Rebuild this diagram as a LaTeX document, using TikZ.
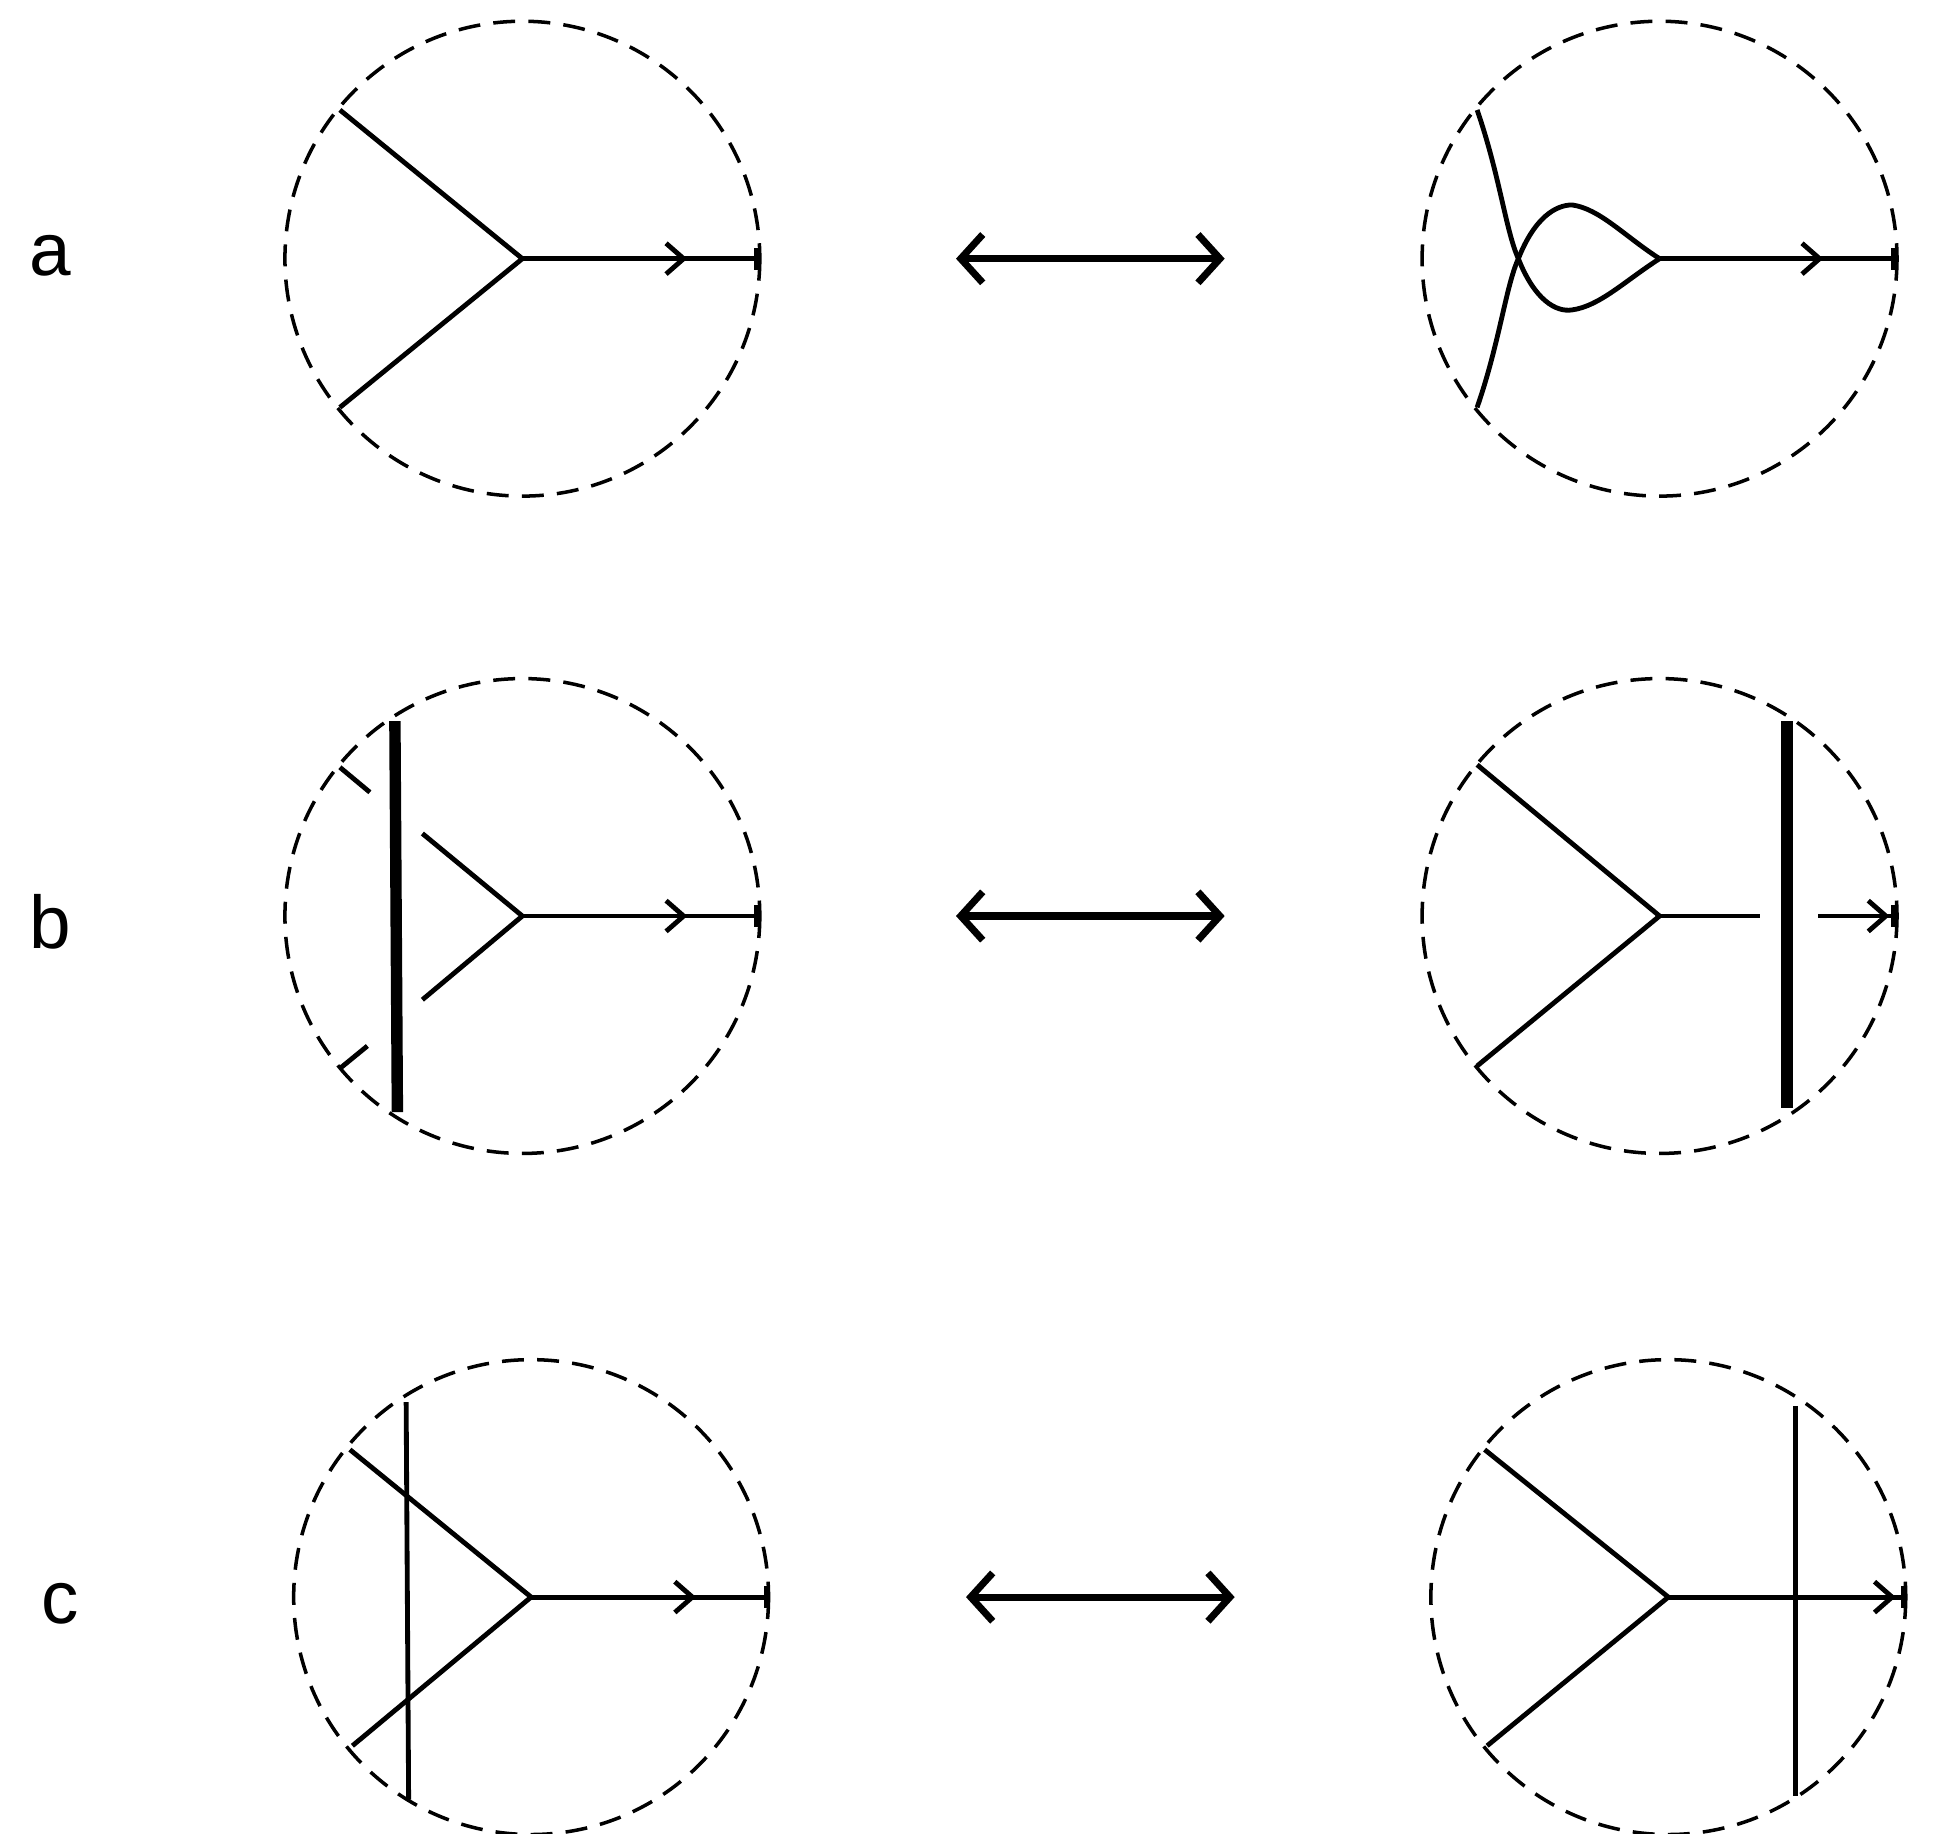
\documentclass[tikz,border=0pt]{standalone}
\usepackage{fontspec}
\setmainfont{Liberation Sans}
\usetikzlibrary{arrows.meta}
\begin{document}
\begin{tikzpicture}[x=0.01cm,y=-0.01cm,
  ln/.style={line width=1.1pt},
  bnd/.style={line width=0.8pt,dash pattern=on 5pt off 3pt},
  barb/.style={ln,-{Straight Barb[length=4pt,width=7pt]}},
  endtick/.style={ln,-{Bar[width=5pt]}},
  dbl/.style={line width=1.6pt,{Straight Barb[length=5pt,width=11pt]}-{Straight Barb[length=5pt,width=11pt]}},
  bar/.style={line width=2.6pt},
  lab/.style={font=\fontsize{17}{20}\selectfont}]
\useasboundingbox (0,0) rectangle (1550,1467);
% labels
\node[lab] (la) at (40,205) {a};
\node[lab] (lb) at (40,738) {b};
\node[lab] (lc) at (48,1283) {c};
% double arrows
\coordinate (a1) at (765,207); \coordinate (a2) at (980,207);
\coordinate (b1) at (765,733); \coordinate (b2) at (980,733);
\coordinate (c1) at (773,1278); \coordinate (c2) at (988,1278);
\draw[dbl] (a1)--(a2); \draw[dbl] (b1)--(b2); \draw[dbl] (c1)--(c2);
% row a left
\draw[bnd] (418,207) circle (190);
\coordinate (aL) at (418,207);
\draw[ln] (272,88)--(aL)--(272,326);
\draw[endtick] (aL)--(607,207);
\draw[barb] (aL)--(550,207);
% row a right
\draw[bnd] (1328,207) circle (190);
\coordinate (aR) at (1328,207);
\draw[ln] (1182,88) .. controls (1200,140) and (1205,185) .. (1215,207)
  .. controls (1228,240) and (1245,250) .. (1258,248)
  .. controls (1280,245) and (1300,225) .. (aR);
\draw[ln] (1182,326) .. controls (1200,274) and (1205,229) .. (1215,207)
  .. controls (1228,174) and (1245,164) .. (1258,164)
  .. controls (1280,167) and (1300,189) .. (aR);
\draw[endtick] (aR)--(1517,207);
\draw[barb] (aR)--(1459,207);
% row b left
\draw[bnd] (418,733) circle (190);
\coordinate (bL) at (418,733);
\draw[bar] (316,577)--(318,890);
\draw[ln] (272,614)--(296,634);
\draw[ln] (272,855)--(294,837);
\draw[ln] (338,667)--(bL)--(338,800);
\draw[endtick] (bL)--(607,733);
\draw[barb] (bL)--(550,733);
% row b right
\draw[bnd] (1328,733) circle (190);
\coordinate (bR) at (1328,733);
\draw[ln] (1182,612)--(bR)--(1182,853);
\draw[ln] (bR)--(1408,733);
\draw[bar] (1430,577)--(1430,887);
\draw[endtick] (1455,733)--(1517,733);
\draw[barb] (1455,733)--(1512,733);
% row c left
\draw[bnd] (425,1278) circle (190);
\coordinate (cL) at (425,1278);
\draw[ln] (280,1160)--(cL)--(282,1397);
\draw[ln] (325,1122)--(327,1440);
\draw[endtick] (cL)--(615,1278);
\draw[barb] (cL)--(557,1278);
% row c right
\draw[bnd] (1335,1278) circle (190);
\coordinate (cR) at (1335,1278);
\draw[ln] (1188,1160)--(cR)--(1190,1397);
\draw[ln] (1437,1125)--(1437,1437);
\draw[endtick] (cR)--(1525,1278);
\draw[barb] (cR)--(1517,1278);
\end{tikzpicture}
\end{document}
